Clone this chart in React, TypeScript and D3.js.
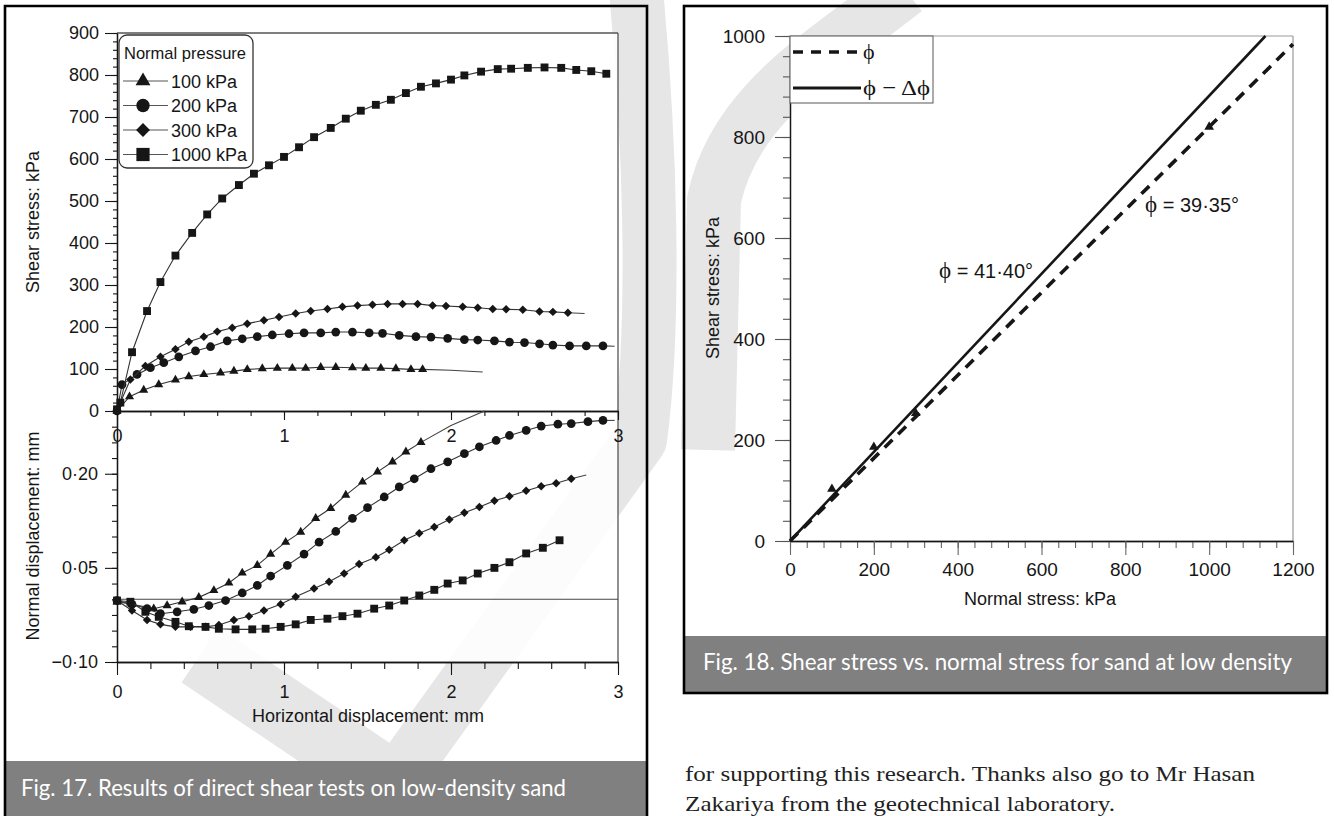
import { useEffect, useRef } from "react";
import * as d3 from "d3";

type Pt = [number, number];

// Fig. 17 (top) — shear stress, kPa, against horizontal displacement, mm
const shear100: Pt[] = [[0, 0], [0.075, 34], [0.16, 50], [0.25, 63], [0.35, 74], [0.43, 82], [0.52, 87], [0.62, 91], [0.7, 95], [0.78, 99], [0.87, 101], [0.96, 102], [1.05, 102], [1.13, 102], [1.22, 104], [1.31, 104], [1.41, 103], [1.49, 102], [1.58, 102], [1.67, 101], [1.76, 99], [1.83, 99]];
const shear100Tail: Pt[] = [[1.83, 99], [2.0, 97], [2.19, 93]];
const shear200: Pt[] = [[0, 0], [0.03, 63], [0.12, 87], [0.2, 103], [0.28, 115], [0.37, 129], [0.47, 143], [0.56, 153], [0.66, 167], [0.75, 172], [0.84, 177], [0.93, 181], [1.03, 184], [1.12, 186], [1.22, 186], [1.31, 188], [1.41, 188], [1.51, 186], [1.59, 185], [1.69, 180], [1.79, 177], [1.88, 176], [1.98, 173], [2.08, 170], [2.16, 169], [2.26, 167], [2.35, 164], [2.44, 163], [2.53, 160], [2.61, 157], [2.71, 155], [2.81, 155], [2.91, 155]];
const shear200Tail: Pt[] = [[2.91, 155], [2.98, 154]];
const shear300: Pt[] = [[0, 2], [0.08, 75], [0.17, 107], [0.26, 129], [0.35, 147], [0.43, 165], [0.52, 177], [0.6, 189], [0.69, 198], [0.78, 208], [0.88, 216], [0.97, 224], [1.07, 232], [1.16, 238], [1.26, 243], [1.35, 248], [1.44, 251], [1.53, 253], [1.62, 255], [1.71, 255], [1.8, 255], [1.89, 251], [1.97, 250], [2.07, 248], [2.16, 246], [2.25, 243], [2.33, 242], [2.43, 241], [2.53, 237], [2.61, 236], [2.7, 234]];
const shear300Tail: Pt[] = [[2.7, 234], [2.8, 232]];
const shear1000: Pt[] = [[0, 4], [0.02, 20], [0.09, 140], [0.18, 238], [0.26, 307], [0.35, 370], [0.45, 424], [0.54, 468], [0.63, 506], [0.73, 538], [0.82, 565], [0.91, 585], [1.0, 605], [1.09, 628], [1.18, 652], [1.28, 674], [1.37, 696], [1.46, 715], [1.55, 729], [1.64, 741], [1.73, 757], [1.82, 772], [1.91, 780], [2.0, 789], [2.08, 799], [2.18, 808], [2.28, 814], [2.36, 815], [2.46, 817], [2.56, 818], [2.66, 817], [2.75, 812], [2.84, 809], [2.93, 803]];

// Fig. 17 (bottom) — normal displacement, mm
const dil100: Pt[] = [[0, -0.004], [0.09, -0.008], [0.22, -0.015], [0.3, -0.01], [0.39, -0.004], [0.49, 0.003], [0.58, 0.014], [0.67, 0.026], [0.75, 0.042], [0.84, 0.054], [0.92, 0.072], [1.01, 0.091], [1.1, 0.107], [1.19, 0.129], [1.28, 0.145], [1.37, 0.166], [1.47, 0.187], [1.56, 0.203], [1.65, 0.219], [1.73, 0.235], [1.82, 0.25]];
const dil100Tail: Pt[] = [[1.82, 0.25], [2.0, 0.277], [2.2, 0.3]];
const dil200: Pt[] = [[0, -0.002], [0.09, -0.008], [0.18, -0.015], [0.26, -0.023], [0.36, -0.02], [0.46, -0.016], [0.55, -0.01], [0.65, -0.002], [0.75, 0.01], [0.84, 0.022], [0.92, 0.037], [1.02, 0.054], [1.12, 0.072], [1.21, 0.091], [1.31, 0.108], [1.41, 0.129], [1.5, 0.146], [1.6, 0.163], [1.69, 0.179], [1.78, 0.192], [1.88, 0.208], [1.98, 0.219], [2.08, 0.232], [2.17, 0.243], [2.27, 0.253], [2.35, 0.261], [2.45, 0.269], [2.54, 0.276], [2.64, 0.279], [2.72, 0.28], [2.82, 0.283], [2.91, 0.285]];
const dil200Tail: Pt[] = [[2.91, 0.285], [2.98, 0.285]];
const dil300: Pt[] = [[0, -0.002], [0.09, -0.018], [0.18, -0.033], [0.26, -0.04], [0.35, -0.044], [0.44, -0.044], [0.53, -0.044], [0.61, -0.041], [0.7, -0.033], [0.79, -0.027], [0.88, -0.018], [0.98, -0.008], [1.07, 0.004], [1.18, 0.017], [1.27, 0.028], [1.36, 0.041], [1.45, 0.056], [1.55, 0.067], [1.63, 0.079], [1.72, 0.094], [1.81, 0.105], [1.9, 0.115], [1.99, 0.127], [2.08, 0.138], [2.17, 0.147], [2.26, 0.157], [2.35, 0.164], [2.45, 0.173], [2.54, 0.18], [2.63, 0.185], [2.72, 0.192]];
const dil300Tail: Pt[] = [[2.72, 0.192], [2.81, 0.198]];
const dil1000: Pt[] = [[0, -0.002], [0.08, -0.004], [0.17, -0.02], [0.25, -0.028], [0.35, -0.036], [0.43, -0.043], [0.53, -0.044], [0.61, -0.047], [0.71, -0.048], [0.81, -0.048], [0.89, -0.047], [0.98, -0.044], [1.07, -0.04], [1.16, -0.033], [1.26, -0.031], [1.35, -0.027], [1.44, -0.023], [1.54, -0.015], [1.63, -0.01], [1.72, -0.002], [1.81, 0.006], [1.9, 0.015], [1.98, 0.025], [2.07, 0.03], [2.16, 0.041], [2.26, 0.05], [2.35, 0.059], [2.45, 0.073], [2.55, 0.082], [2.65, 0.094]];

const pressureLabels = ["100 kPa", "200 kPa", "300 kPa", "1000 kPa"];
const shearTicks = [0, 100, 200, 300, 400, 500, 600, 700, 800, 900];
const dispTicks = [0, 1, 2, 3];
const normalDispTicks = [0.2, 0.05, -0.1];

// Fig. 18 — failure envelope
const failNormal = [100, 200, 300, 1000];
const failShear = [103, 186, 253, 820];
const phiPeak = 41.4;
const phiCrit = 39.35;
const stressTicksX = [0, 200, 400, 600, 800, 1000, 1200];
const stressTicksY = [0, 200, 400, 600, 800, 1000];

const bodyLines = [
  "for supporting this research. Thanks also go to Mr Hasan",
  "Zakariya from the geotechnical laboratory.",
];

const sans = "'Liberation Sans', Arial, sans-serif";
const serif = "'Liberation Serif', 'Times New Roman', serif";
const ink = "#161616";
const phi = "\u03d5";
const plain = (d: any) => String(d);

export default function App() {
  const ref = useRef<SVGSVGElement>(null);

  useEffect(() => {
    const svg = d3.select(ref.current);
    svg.selectAll("*").remove();

    svg.append("rect").attr("width", 1334).attr("height", 816).attr("fill", "#fff");

    // faint watermark behind the page
    const wm = svg.append("g").attr("fill", "none").attr("stroke", "#e6e6e6").attr("stroke-linejoin", "round");
    wm.append("path").attr("d", "M636,-10 C650,140 656,320 640,440 L360,830").attr("stroke-width", 54);
    wm.append("path").attr("d", "M200,655 L460,830").attr("stroke-width", 66);
    wm.append("path").attr("d", "M905,-10 C830,50 735,100 714,200 L708,450").attr("stroke-width", 54);

    // plot areas are a little whiter than the page
    svg.append("rect").attr("x", 117).attr("y", 33).attr("width", 501).attr("height", 629).attr("fill", "#fff").attr("opacity", 0.85);
    svg.append("rect").attr("x", 790).attr("y", 36).attr("width", 503).attr("height", 505).attr("fill", "#fff").attr("opacity", 0.9);

    // ---------- Fig. 17 ----------
    const xs = d3.scaleLinear().domain([0, 3]).range([117, 618]);
    const ys = d3.scaleLinear().domain([0, 900]).range([411, 33]);
    const yd = d3.scaleLinear().domain([-0.1, 0.3]).range([662, 411]);

    const styleAxis = (g: any, size = 17) => {
      g.attr("font-family", sans).attr("font-size", size).attr("color", ink);
      g.selectAll("line").attr("stroke-width", 1.1);
      g.select(".domain").attr("stroke-width", 1.3);
    };

    // frame
    svg.append("line").attr("x1", 117).attr("x2", 618).attr("y1", 33).attr("y2", 33).attr("stroke", "#555").attr("stroke-width", 1.3);
    svg.append("line").attr("x1", 618).attr("x2", 618).attr("y1", 33).attr("y2", 662).attr("stroke", "#555").attr("stroke-width", 1.3);
    svg.append("line").attr("x1", xs(0)).attr("x2", xs(3)).attr("y1", yd(0)).attr("y2", yd(0)).attr("stroke", "#444").attr("stroke-width", 1.2);

    // shear y axis
    svg.append("g").attr("transform", "translate(117,0)")
      .call(d3.axisLeft(ys).tickValues(d3.range(0, 901, 20)).tickSize(4).tickSizeOuter(0).tickFormat(() => ""))
      .call(styleAxis);
    svg.append("g").attr("transform", "translate(117,0)")
      .call(d3.axisLeft(ys).tickValues(shearTicks).tickSize(12).tickPadding(6).tickSizeOuter(0).tickFormat(plain))
      .call((g: any) => styleAxis(g, 18));

    // normal displacement y axis
    svg.append("g").attr("transform", "translate(117,0)")
      .call(d3.axisLeft(yd).tickValues(d3.range(-0.1, 0.3001, 0.025)).tickSize(5).tickSizeOuter(0).tickFormat(() => ""))
      .call(styleAxis);
    svg.append("g").attr("transform", "translate(117,0)")
      .call(d3.axisLeft(yd).tickValues(normalDispTicks).tickSize(12).tickPadding(7).tickSizeOuter(0)
        .tickFormat((d: any) => d3.format(".2f")(d).replace("-", "\u2212").replace(".", "\u00b7")))
      .call((g: any) => styleAxis(g, 18));

    // middle x axis (shear chart)
    svg.append("g").attr("transform", "translate(0,411)")
      .call(d3.axisBottom(xs).tickValues(d3.range(0, 3.001, 0.2)).tickSize(5).tickSizeOuter(0).tickFormat(() => ""))
      .call(styleAxis);
    svg.append("g").attr("transform", "translate(0,411)")
      .call(d3.axisBottom(xs).tickValues(dispTicks).tickSize(9).tickPadding(9).tickSizeOuter(0).tickFormat(plain))
      .call((g: any) => styleAxis(g, 18));

    // bottom x axis
    svg.append("g").attr("transform", "translate(0,662)")
      .call(d3.axisBottom(xs).tickValues(d3.range(0, 3.001, 0.2)).tickSize(7).tickSizeOuter(0).tickFormat(() => ""))
      .call(styleAxis);
    svg.append("g").attr("transform", "translate(0,662)")
      .call(d3.axisBottom(xs).tickValues(dispTicks).tickSize(13).tickPadding(10).tickSizeOuter(0).tickFormat(plain))
      .call((g: any) => styleAxis(g, 18));

    svg.append("text").attr("transform", "translate(39,222) rotate(-90)").attr("text-anchor", "middle")
      .attr("font-family", sans).attr("font-size", 18).attr("fill", ink).text("Shear stress: kPa");
    svg.append("text").attr("transform", "translate(39,536) rotate(-90)").attr("text-anchor", "middle")
      .attr("font-family", sans).attr("font-size", 18).attr("fill", ink).text("Normal displacement: mm");
    svg.append("text").attr("x", 368).attr("y", 722).attr("text-anchor", "middle")
      .attr("font-family", sans).attr("font-size", 18).attr("fill", ink).text("Horizontal displacement: mm");

    const symbols = [
      { type: d3.symbolTriangle, size: 36, rot: 0 },
      { type: d3.symbolCircle, size: 60, rot: 0 },
      { type: d3.symbolSquare, size: 36, rot: 45 },
      { type: d3.symbolSquare, size: 62, rot: 0 },
    ];

    const lineGen = d3.line<Pt>();
    const drawSeries = (pts: Pt[], tail: Pt[] | null, sx: any, sy: any, s: number) => {
      const line = lineGen.x((d) => sx(d[0])).y((d) => sy(d[1]));
      svg.append("path").attr("d", line(pts)).attr("fill", "none").attr("stroke", "#333").attr("stroke-width", 1.1);
      if (tail) svg.append("path").attr("d", line(tail)).attr("fill", "none").attr("stroke", "#444").attr("stroke-width", 1.1);
      const sym = d3.symbol().type(symbols[s].type).size(symbols[s].size);
      svg.append("g").selectAll("path").data(pts).join("path")
        .attr("d", sym)
        .attr("transform", (d) => `translate(${sx(d[0])},${sy(d[1])}) rotate(${symbols[s].rot})`)
        .attr("fill", ink);
    };

    drawSeries(shear100, shear100Tail, xs, ys, 0);
    drawSeries(shear200, shear200Tail, xs, ys, 1);
    drawSeries(shear300, shear300Tail, xs, ys, 2);
    drawSeries(shear1000, null, xs, ys, 3);
    drawSeries(dil100, dil100Tail, xs, yd, 0);
    drawSeries(dil200, dil200Tail, xs, yd, 1);
    drawSeries(dil300, dil300Tail, xs, yd, 2);
    drawSeries(dil1000, null, xs, yd, 3);

    // legend
    const lg = svg.append("g");
    lg.append("rect").attr("x", 119).attr("y", 35).attr("width", 134).attr("height", 133).attr("rx", 8)
      .attr("fill", "#fff").attr("stroke", "#333").attr("stroke-width", 1.3);
    lg.append("text").attr("x", 124).attr("y", 59).attr("font-family", sans).attr("font-size", 17)
      .attr("textLength", 122).attr("lengthAdjust", "spacingAndGlyphs").attr("fill", ink).text("Normal pressure");
    const legendSyms = [95, 140, 96, 175];
    pressureLabels.forEach((lab, i) => {
      const y = 81 + i * 24.5;
      lg.append("line").attr("x1", 123).attr("x2", 168).attr("y1", y).attr("y2", y).attr("stroke", "#555").attr("stroke-width", 1);
      lg.append("path").attr("d", d3.symbol().type(symbols[i].type).size(legendSyms[i])())
        .attr("transform", `translate(143,${y}) rotate(${symbols[i].rot})`).attr("fill", ink);
      lg.append("text").attr("x", 171).attr("y", y + 6.5).attr("font-family", sans).attr("font-size", 18)
        .attr("fill", ink).text(lab);
    });

    // ---------- Fig. 18 ----------
    const xn = d3.scaleLinear().domain([0, 1200]).range([790, 1293]);
    const yt = d3.scaleLinear().domain([0, 1000]).range([541, 36]);

    svg.append("line").attr("x1", 790).attr("x2", 1293).attr("y1", 36).attr("y2", 36).attr("stroke", "#999").attr("stroke-width", 1.2);
    svg.append("line").attr("x1", 1293).attr("x2", 1293).attr("y1", 36).attr("y2", 541).attr("stroke", "#999").attr("stroke-width", 1.2);

    svg.append("g").attr("transform", "translate(790,0)")
      .call(d3.axisLeft(yt).tickValues(d3.range(0, 1001, 40)).tickSize(7).tickSizeOuter(0).tickFormat(() => ""))
      .call((g: any) => styleAxis(g, 19)).call((g: any) => g.attr("color", "#555"));
    svg.append("g").attr("transform", "translate(790,0)")
      .call(d3.axisLeft(yt).tickValues(stressTicksY).tickSize(15).tickPadding(10).tickSizeOuter(0).tickFormat(plain))
      .call((g: any) => styleAxis(g, 19)).call((g: any) => g.selectAll("line").attr("stroke", "#555"));
    svg.append("g").attr("transform", "translate(0,541)")
      .call(d3.axisBottom(xn).tickValues(d3.range(0, 1201, 40)).tickSize(7).tickSizeOuter(0).tickFormat(() => ""))
      .call((g: any) => styleAxis(g, 19)).call((g: any) => g.attr("color", "#666"));
    svg.append("g").attr("transform", "translate(0,541)")
      .call(d3.axisBottom(xn).tickValues(stressTicksX).tickSize(14).tickPadding(8).tickSizeOuter(0).tickFormat(plain))
      .call((g: any) => styleAxis(g, 19)).call((g: any) => g.selectAll("line").attr("stroke", "#666"));

    svg.append("text").attr("transform", "translate(719,288) rotate(-90)").attr("text-anchor", "middle")
      .attr("font-family", sans).attr("font-size", 18).attr("fill", ink).text("Shear stress: kPa");
    svg.append("text").attr("x", 1040).attr("y", 605).attr("text-anchor", "middle")
      .attr("font-family", sans).attr("font-size", 18).attr("fill", ink).text("Normal stress: kPa");

    const tanP = Math.tan((phiPeak * Math.PI) / 180);
    const tanC = Math.tan((phiCrit * Math.PI) / 180);
    const solidEnd = Math.min(1200, 1000 / tanP);
    const dashEnd = Math.min(1200, 1000 / tanC);
    svg.append("line").attr("x1", xn(0)).attr("y1", yt(0)).attr("x2", xn(dashEnd)).attr("y2", yt(dashEnd * tanC))
      .attr("stroke", ink).attr("stroke-width", 3.6).attr("stroke-dasharray", "11 8");
    svg.append("line").attr("x1", xn(0)).attr("y1", yt(0)).attr("x2", xn(solidEnd)).attr("y2", yt(solidEnd * tanP))
      .attr("stroke", ink).attr("stroke-width", 2.6);

    svg.append("g").selectAll("path").data(failNormal).join("path")
      .attr("d", d3.symbol().type(d3.symbolTriangle).size(40))
      .attr("transform", (d, i) => `translate(${xn(d)},${yt(failShear[i])})`)
      .attr("fill", ink);

    // envelope labels
    const envLabel = (x: number, y: number, val: string) => {
      const t = svg.append("text").attr("x", x).attr("y", y).attr("font-size", 20).attr("fill", ink);
      t.append("tspan").attr("font-family", serif).attr("font-size", 23).text(phi);
      t.append("tspan").attr("font-family", sans).text(` = ${val}\u00b0`);
    };
    envLabel(939, 278, "41\u00b740");
    envLabel(1145, 212, "39\u00b735");

    // legend
    svg.append("rect").attr("x", 790).attr("y", 36).attr("width", 143).attr("height", 67)
      .attr("fill", "#fff").attr("stroke", "#666").attr("stroke-width", 1.1);
    svg.append("line").attr("x1", 793).attr("x2", 861).attr("y1", 52).attr("y2", 52)
      .attr("stroke", ink).attr("stroke-width", 3.6).attr("stroke-dasharray", "10 8");
    svg.append("line").attr("x1", 793).attr("x2", 861).attr("y1", 88).attr("y2", 88)
      .attr("stroke", ink).attr("stroke-width", 3);
    svg.append("text").attr("x", 863).attr("y", 59).attr("font-family", serif).attr("font-size", 22).attr("fill", ink).text(phi);
    svg.append("text").attr("x", 863).attr("y", 95).attr("font-family", serif).attr("font-size", 22).attr("fill", ink)
      .attr("textLength", 67).attr("lengthAdjust", "spacingAndGlyphs").text(`${phi} \u2212 \u0394${phi}`);

    // ---------- page furniture ----------
    svg.append("rect").attr("x", 5).attr("y", 761).attr("width", 642).attr("height", 60).attr("fill", "#808080");
    svg.append("rect").attr("x", 684).attr("y", 636).attr("width", 643).attr("height", 57).attr("fill", "#808080");
    svg.append("text").attr("x", 21).attr("y", 796).attr("font-family", "Lato, 'Open Sans', sans-serif").attr("font-size", 23)
      .attr("fill", "#fff").attr("textLength", 545).attr("lengthAdjust", "spacingAndGlyphs")
      .text("Fig. 17. Results of direct shear tests on low-density sand");
    svg.append("text").attr("x", 703).attr("y", 670).attr("font-family", "Lato, 'Open Sans', sans-serif").attr("font-size", 23)
      .attr("fill", "#fff").attr("textLength", 589).attr("lengthAdjust", "spacingAndGlyphs")
      .text("Fig. 18. Shear stress vs. normal stress for sand at low density");

    svg.append("path").attr("d", "M5,820 V6 H647 V820").attr("fill", "none").attr("stroke", "#000").attr("stroke-width", 2.6);
    svg.append("rect").attr("x", 684).attr("y", 6).attr("width", 643).attr("height", 687)
      .attr("fill", "none").attr("stroke", "#000").attr("stroke-width", 2.6);

    const widths = [570, 430];
    bodyLines.forEach((l, i) => {
      svg.append("text").attr("x", 685).attr("y", 781 + i * 30).attr("font-family", serif).attr("font-size", 22)
        .attr("fill", "#222").attr("textLength", widths[i]).attr("lengthAdjust", "spacingAndGlyphs").text(l);
    });
  }, []);

  return (
    <svg ref={ref} width={1334} height={816} style={{ position: "absolute", left: 0, top: 0, display: "block" }} />
  );
}
